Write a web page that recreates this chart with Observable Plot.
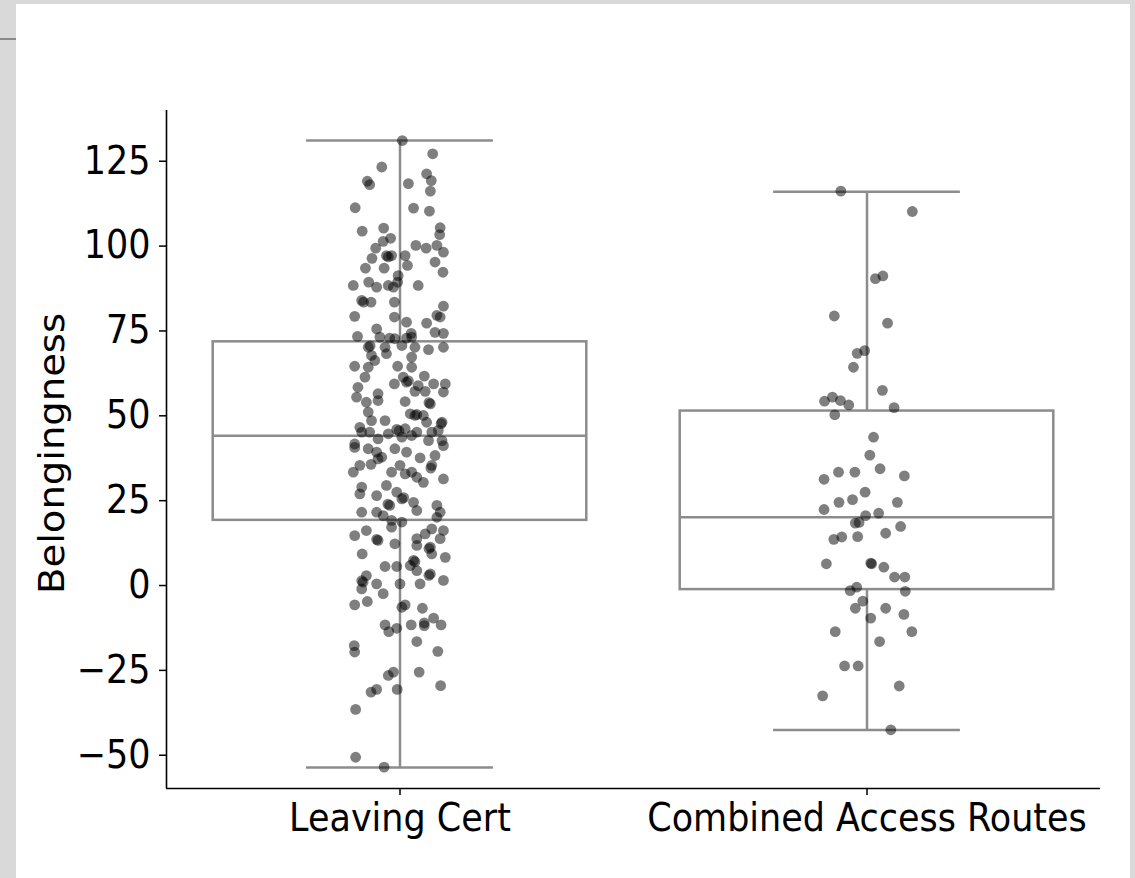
<!DOCTYPE html>
<html><head><meta charset="utf-8">
<script src="https://cdn.jsdelivr.net/npm/d3@7"></script>
<script src="https://cdn.jsdelivr.net/npm/@observablehq/plot@0.6"></script>
<style>
html,body{margin:0;padding:0;background:#d9d9d9;width:1135px;height:878px;overflow:hidden;}
#panel{position:absolute;left:16px;top:4px;width:1114px;height:874px;background:#fff;}
#mark{position:absolute;left:0;top:38px;width:16px;height:2px;background:#8a8a8a;}
#chart{position:absolute;left:0;top:0;}
</style></head><body>
<div id="panel"></div><div id="mark"></div><div id="chart"></div>
<script>
const categories = ["Leaving Cert", "Combined Access Routes"];
const yTicks = [-50, -25, 0, 25, 50, 75, 100, 125];
const yLabel = "Belongingness";

// box statistics
const q1 = [19.2, -1.2];
const median = [44.1, 20.1];
const q3 = [71.8, 51.4];
const whiskerLow = [-53.6, -42.6];
const whiskerHigh = [131.1, 116.0];

// Leaving Cert points: values and horizontal jitter (category units)
const lcValues = [131.1,127.2,123.3,121.3,119.3,119.1,118.1,118.4,116.2,111.3,111.2,110.3,104.4,105.3,105.4,103.4,102.3,101.4,100.2,99.4,100.2,98.2,99.4,96.4,97.2,97.2,96.8,97.2,93.5,93.5,94.3,95.3,92.3,91.3,88.4,89.4,87.9,88.4,87.9,89.4,88.4,84.0,83.5,83.5,83.5,82.3,79.3,79.1,79.1,79.6,77.3,77.6,75.6,74.6,74.3,74.3,73.4,73.2,72.9,72.7,72.9,73.2,70.2,70.6,70.2,70.7,70.2,69.5,70.2,67.8,68.3,66.3,67.3,64.6,64.6,64.3,64.3,61.4,61.4,61.7,59.9,60.3,59.4,58.9,59.4,59.4,58.4,57.2,57.2,57.0,55.5,56.5,54.0,54.2,53.5,53.9,54.5,51.1,50.6,50.1,50.4,50.1,48.6,48.6,48.1,47.7,48.1,46.6,46.0,45.6,46.2,45.2,45.2,45.7,45.2,45.2,44.7,43.7,44.2,43.2,42.7,41.7,42.7,40.7,40.3,39.3,37.8,40.3,39.3,37.6,35.4,34.6,38.3,41.2,33.4,35.4,35.7,37.3,33.4,35.4,32.9,33.4,31.9,30.4,31.4,27.0,29.0,29.5,26.5,27.5,25.5,25.9,24.5,23.6,24.0,22.1,23.6,21.6,21.6,21.6,20.6,19.2,18.7,20.1,17.2,14.7,16.2,13.6,13.3,12.3,13.8,15.2,16.7,16.2,13.8,11.8,11.3,10.9,9.3,9.3,8.3,7.4,7.0,5.9,5.6,5.6,4.4,3.4,3.0,2.9,1.0,1.4,0.5,0.5,0.5,1.5,-1.0,-2.4,-5.7,-4.7,-6.4,-5.7,-6.7,-9.6,-11.6,-13.6,-12.6,-11.6,-11.0,-11.8,-11.6,-16.5,-17.7,-19.6,-19.4,-26.5,-25.5,-25.5,-31.4,-30.6,-30.6,-29.5,-36.5,-50.6,-53.5];
const lcJitter = [0.005,0.070,-0.039,0.057,0.067,-0.070,-0.065,0.018,0.065,-0.096,0.029,0.063,-0.081,-0.035,0.086,0.085,-0.020,-0.036,0.034,0.056,0.079,0.093,-0.052,-0.060,-0.029,-0.018,-0.025,0.011,-0.074,-0.034,0.016,0.075,0.092,-0.004,-0.100,-0.067,-0.050,-0.025,-0.014,-0.005,0.039,-0.082,-0.078,-0.062,-0.012,0.093,-0.097,-0.012,0.086,0.079,0.057,0.014,-0.050,0.075,0.093,0.024,-0.091,-0.043,-0.022,-0.011,0.014,0.025,-0.068,-0.064,-0.032,0.004,0.032,0.061,0.093,-0.061,-0.029,-0.054,0.025,-0.097,-0.005,0.025,-0.068,-0.075,0.007,0.052,0.014,0.018,-0.012,0.039,0.072,0.097,-0.090,0.032,0.054,0.093,-0.093,-0.047,-0.072,0.011,0.065,0.062,-0.047,-0.068,0.022,0.032,0.036,0.050,-0.032,-0.061,0.090,0.088,0.057,-0.086,-0.007,-0.002,0.011,0.036,0.068,0.082,-0.082,-0.065,-0.025,0.004,0.025,-0.047,0.090,-0.097,0.061,-0.097,-0.068,-0.050,-0.039,-0.011,0.014,0.043,0.068,0.066,0.075,0.093,-0.100,-0.086,-0.062,-0.047,-0.018,0.000,0.011,0.025,0.036,0.050,0.093,-0.086,-0.082,-0.029,-0.050,-0.007,0.004,0.008,0.029,-0.022,-0.026,0.036,0.079,0.086,-0.082,-0.050,-0.036,-0.018,0.004,0.079,-0.018,-0.097,-0.072,-0.050,-0.047,-0.011,0.036,0.054,0.068,0.093,0.086,0.036,0.065,0.062,0.068,-0.081,0.097,0.029,0.032,0.022,-0.032,-0.007,0.036,0.065,0.062,-0.072,-0.079,-0.082,-0.050,0.000,0.043,0.093,-0.082,-0.036,-0.097,-0.070,0.004,0.011,0.048,0.072,-0.032,-0.024,-0.007,0.024,0.052,0.052,0.088,0.036,-0.098,-0.097,0.081,-0.025,-0.014,0.041,-0.062,-0.050,-0.006,0.087,-0.095,-0.095,-0.034];

// Combined Access Routes points
const carValues = [116.2,110.2,90.4,91.2,79.4,77.3,69.2,68.4,64.3,57.5,54.3,55.5,54.5,53.2,52.4,50.3,43.7,38.4,31.3,33.4,33.4,34.4,32.3,22.4,24.5,25.3,27.5,24.5,20.6,21.3,18.4,18.6,17.4,13.6,14.3,14.4,15.4,6.4,6.4,6.6,5.4,2.5,2.5,-1.5,-0.5,-1.7,-4.6,-6.7,-6.7,-9.6,-8.5,-13.6,-13.6,-16.5,-23.7,-23.7,-29.6,-32.5,-42.5];
const carJitter = [-0.056,0.097,0.018,0.034,-0.070,0.044,-0.005,-0.021,-0.029,0.033,-0.091,-0.074,-0.057,-0.039,0.058,-0.069,0.014,0.006,-0.092,-0.061,-0.026,0.028,0.080,-0.092,-0.060,-0.031,-0.004,0.065,-0.003,0.025,-0.025,-0.017,0.072,-0.071,-0.054,-0.020,0.040,-0.087,0.010,0.008,0.036,0.059,0.081,-0.036,-0.022,0.082,-0.009,-0.025,0.040,0.008,0.079,-0.068,0.096,0.027,-0.048,-0.019,0.069,-0.095,0.051];

const boxes = categories.map((c, i) => ({i, q1: q1[i], med: median[i], q3: q3[i], lo: whiskerLow[i], hi: whiskerHigh[i]}));
const points = [
  ...lcValues.map((v, k) => ({c: 0, v, j: lcJitter[k]})),
  ...carValues.map((v, k) => ({c: 1, v, j: carJitter[k]}))
];

const boxW = 0.4, capW = 0.2, lineColor = "#8c8c8c", lw = 2.5;
const xDomain = [-0.5, 1.5], yDomain = [-59.8, 139.95];
const fmt = d => d < 0 ? "\u2212" + Math.abs(d) : String(d);

const svg = Plot.plot({
  width: 1135, height: 878,
  marginLeft: 166, marginRight: 35, marginTop: 110, marginBottom: 90,
  style: {fontFamily: "DejaVu Sans", fontSize: "35px", background: "transparent", color: "black"},
  x: {domain: xDomain},
  y: {domain: yDomain},
  marks: [
    Plot.rect(boxes, {x1: d => d.i - boxW, x2: d => d.i + boxW, y1: "q1", y2: "q3", fill: "white", stroke: lineColor, strokeWidth: lw}),
    Plot.ruleY(boxes, {y: "med", x1: d => d.i - boxW, x2: d => d.i + boxW, stroke: lineColor, strokeWidth: lw}),
    Plot.ruleX(boxes, {x: "i", y1: "q3", y2: "hi", stroke: lineColor, strokeWidth: lw}),
    Plot.ruleX(boxes, {x: "i", y1: "lo", y2: "q1", stroke: lineColor, strokeWidth: lw}),
    Plot.ruleY(boxes, {y: "hi", x1: d => d.i - capW, x2: d => d.i + capW, stroke: lineColor, strokeWidth: lw}),
    Plot.ruleY(boxes, {y: "lo", x1: d => d.i - capW, x2: d => d.i + capW, stroke: lineColor, strokeWidth: lw}),
    Plot.dot(points, {x: d => d.c + d.j, y: "v", r: 5.4, fill: "black", fillOpacity: 0.5, stroke: null}),
    Plot.ruleX([xDomain[0]], {stroke: "black", strokeWidth: 1.6}),
    Plot.ruleY([yDomain[0]], {stroke: "black", strokeWidth: 1.6}),
    Plot.axisY({ticks: yTicks, tickFormat: fmt, tickSize: 7, tickPadding: 9, strokeWidth: 1.5, label: null}),
    Plot.axisX({ticks: [0, 1], tickFormat: i => categories[i], tickSize: 7, tickPadding: 8, strokeWidth: 1.5, label: null})
  ]
});

// slightly taller glyphs, as in the reference
d3.select(svg).selectAll('g[aria-label="y-axis tick label"] text, g[aria-label="x-axis tick label"] text').each(function() {
  const t = this.getAttribute("transform");
  if (t && t.includes("translate")) {
    this.setAttribute("transform", t + " scale(1,1.1)");
  } else {
    const x = +this.getAttribute("x") || 0, y = +this.getAttribute("y") || 0;
    this.setAttribute("transform", `translate(${x},${y}) scale(1,1.1) translate(${-x},${-y})`);
  }
});

d3.select(svg).append("text")
  .attr("transform", "translate(63.5,453.5) rotate(-90) scale(1.1,1)")
  .attr("text-anchor", "middle")
  .attr("fill", "black")
  .style("font-family", "DejaVu Sans")
  .style("font-size", "35px")
  .text(yLabel);

document.getElementById("chart").appendChild(svg);
</script>
</body></html>
